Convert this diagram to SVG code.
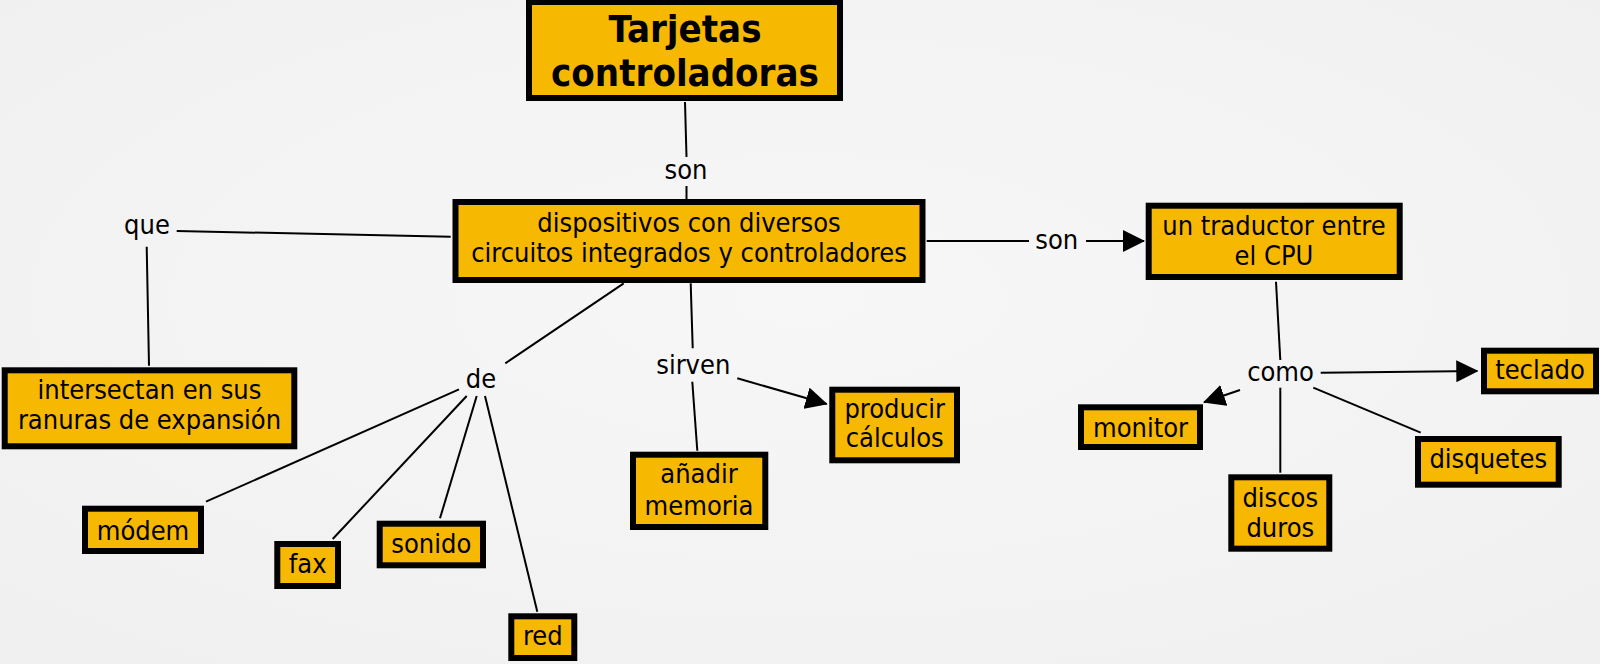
<svg xmlns="http://www.w3.org/2000/svg" width="1600" height="664" viewBox="0 0 1600 664">
  <defs>
    <marker id="arrow" markerUnits="userSpaceOnUse" markerWidth="22" markerHeight="22" viewBox="0 0 22 22" refX="21" refY="11" orient="auto">
      <path d="M0,0 L22,11 L0,22 Z" fill="#000"/>
    </marker>
    <radialGradient id="bg" cx="50%" cy="45%" r="70%">
      <stop offset="0" stop-color="#f7f7f7"/>
      <stop offset="1" stop-color="#f0f0f0"/>
    </radialGradient>
  </defs>
  <style>
    .box { fill: #f6b800; stroke: #000; stroke-width: 6; }
    .t { font-family: "DejaVu Sans Condensed", "DejaVu Sans", sans-serif; font-stretch: condensed; font-size: 27px; fill: #000; text-anchor: middle; }
    .title { font-family: "DejaVu Sans Condensed", "DejaVu Sans", sans-serif; font-stretch: condensed; font-size: 38px; font-weight: bold; fill: #000; text-anchor: middle; }
    .c line { stroke: #000; stroke-width: 2; fill: none; }
    .c line.a { marker-end: url(#arrow); }
  </style>
  <rect x="0" y="0" width="1600" height="664" fill="url(#bg)"/>

  <g id="connectors" class="c">
    <line x1="685" y1="102" x2="686.5" y2="157"/>
    <line x1="686.5" y1="186" x2="686.5" y2="199"/>
    <line x1="176.7" y1="231" x2="450.7" y2="236.7"/>
    <line x1="146.7" y1="246.7" x2="149" y2="365.7"/>
    <line x1="623.7" y1="283.3" x2="505.3" y2="363.3"/>
    <line x1="459" y1="389.3" x2="206" y2="501.7"/>
    <line x1="466.7" y1="396" x2="332.7" y2="539"/>
    <line x1="476.7" y1="396" x2="440" y2="518.3"/>
    <line x1="485" y1="396" x2="537.3" y2="611.7"/>
    <line x1="690.7" y1="283.3" x2="692.7" y2="348.3"/>
    <line x1="692.3" y1="381.7" x2="697.3" y2="450.7"/>
    <line class="a" x1="737.3" y1="378.3" x2="826.7" y2="404"/>
    <line x1="926.7" y1="241" x2="1029" y2="241"/>
    <line class="a" x1="1086" y1="241" x2="1144" y2="241"/>
    <line x1="1276" y1="281.7" x2="1280.3" y2="360"/>
    <line class="a" x1="1320.7" y1="372.7" x2="1477.3" y2="371"/>
    <line class="a" x1="1240" y1="390" x2="1204" y2="402.3"/>
    <line x1="1280.3" y1="387.7" x2="1280.3" y2="472.7"/>
    <line x1="1313.3" y1="387.7" x2="1420.7" y2="432.7"/>
    <text class="t" x="686" y="179">son</text>
    <text class="t" x="147" y="234">que</text>
    <text class="t" x="481" y="388">de</text>
    <text class="t" x="693.3" y="374.3">sirven</text>
    <text class="t" x="1056.7" y="249.3">son</text>
    <text class="t" x="1280.5" y="380.7">como</text>
  </g>

  <g id="tarjetas">
    <rect class="box" x="529" y="2" width="311" height="96"/>
    <text class="title" x="685" y="41.5">Tarjetas</text>
    <text class="title" x="685" y="85.5">controladoras</text>
  </g>
  <g id="dispositivos">
    <rect class="box" x="455.5" y="202" width="467" height="78"/>
    <text class="t" x="689" y="232">dispositivos con diversos</text>
    <text class="t" x="689" y="262">circuitos integrados y controladores</text>
  </g>
  <g id="intersectan">
    <rect class="box" x="4.7" y="370.3" width="289.6" height="76"/>
    <text class="t" x="149.5" y="399.3">intersectan en sus</text>
    <text class="t" x="149.5" y="429.3">ranuras de expansión</text>
  </g>
  <g id="modem">
    <rect class="box" x="85" y="508.7" width="116" height="42.3"/>
    <text class="t" x="143" y="540">módem</text>
  </g>
  <g id="fax">
    <rect class="box" x="277.3" y="544" width="60.7" height="42"/>
    <text class="t" x="307.7" y="573.3">fax</text>
  </g>
  <g id="sonido">
    <rect class="box" x="379.7" y="523.7" width="103.3" height="41.6"/>
    <text class="t" x="431.3" y="552.7">sonido</text>
  </g>
  <g id="red">
    <rect class="box" x="511.3" y="616.3" width="63" height="41.7"/>
    <text class="t" x="542.8" y="645">red</text>
  </g>
  <g id="anadir">
    <rect class="box" x="633" y="454.7" width="132.3" height="72.3"/>
    <text class="t" x="699" y="483.3">añadir</text>
    <text class="t" x="699" y="515">memoria</text>
  </g>
  <g id="producir">
    <rect class="box" x="832.3" y="389.7" width="124.7" height="70.6"/>
    <text class="t" x="894.7" y="418.3">producir</text>
    <text class="t" x="894.7" y="446.7">cálculos</text>
  </g>
  <g id="traductor">
    <rect class="box" x="1148.7" y="205.7" width="251" height="71.3"/>
    <text class="t" x="1274" y="235">un traductor entre</text>
    <text class="t" x="1274" y="265">el CPU</text>
  </g>
  <g id="teclado">
    <rect class="box" x="1484" y="350.7" width="112" height="40.6"/>
    <text class="t" x="1540" y="379.3">teclado</text>
  </g>
  <g id="monitor">
    <rect class="box" x="1081" y="407.3" width="119" height="39.7"/>
    <text class="t" x="1140.5" y="436.7">monitor</text>
  </g>
  <g id="discos">
    <rect class="box" x="1231.3" y="477.3" width="98" height="71.4"/>
    <text class="t" x="1280.3" y="506.7">discos</text>
    <text class="t" x="1280.3" y="536.7">duros</text>
  </g>
  <g id="disquetes">
    <rect class="box" x="1418" y="439" width="140.7" height="45.7"/>
    <text class="t" x="1488.3" y="468.3">disquetes</text>
  </g>
</svg>
